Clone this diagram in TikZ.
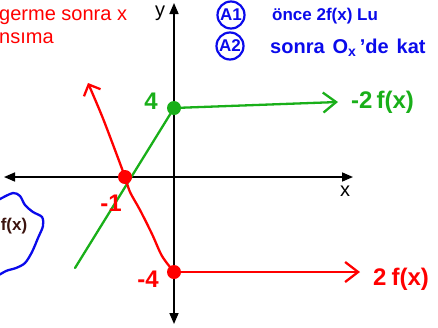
\documentclass[tikz,border=0pt]{standalone}
\usepackage{fontspec}
\setmainfont{Liberation Sans}
\usetikzlibrary{arrows.meta}
\definecolor{penred}{RGB}{255,0,0}
\definecolor{pengreen}{RGB}{25,175,25}
\definecolor{penblue}{RGB}{10,10,235}
\definecolor{penbrown}{RGB}{60,20,15}
\begin{document}
\begin{tikzpicture}[x=1pt, y=-1pt, line cap=round, line join=round,
    axis/.style={line width=1.6pt, {Triangle[length=11pt,width=9pt]}-{Triangle[length=11pt,width=9pt]}},
    pen/.style={line width=2.3pt},
    barb/.style={-{Straight Barb[length=13pt,width=20pt,line width=2.3pt]}},
    hand/.style={font=\fontsize{24}{28}\selectfont\bfseries, inner sep=0pt},
    ring/.style={circle, draw, penblue, line width=2.2pt, minimum size=27pt, font=\fontsize{17}{20}\selectfont\bfseries},
    every node/.style={font=\fontsize{20}{24}\selectfont, inner sep=0pt}]
    \useasboundingbox (0,0) rectangle (438,327);
    \clip (0,0) rectangle (438,327);
    % axes
    \coordinate (xl) at (4,177);
    \coordinate (xr) at (353,177);
    \coordinate (yt) at (174,3);
    \coordinate (yb) at (174,324);
    \draw[axis] (xl) -- (xr);
    \draw[axis] (yt) -- (yb);
    \node (xlab) at (345,191) {x};
    \node (ylab) at (160,13) {y};
    % points
    \coordinate (g4) at (174,108);
    \coordinate (rm4) at (174,272);
    \coordinate (rx) at (125,177);
    \coordinate (gend) at (75,268);
    \coordinate (gtip) at (338,102);
    \coordinate (rtip) at (360,272);
    \coordinate (rtop) at (88,83);
    % -2 f(x)
    \draw[pen, pengreen] (gend) -- (g4);
    \draw[pen, pengreen, barb] (g4) -- (gtip);
    % 2 f(x)
    \draw[pen, penred, -{Straight Barb[length=9pt,width=18pt,line width=2.3pt]}]
        plot[smooth, tension=0.5] coordinates {(rm4) (162,256) (152,234) (140,210) (130,192) (rx) (115,150) (102,116) (rtop)};
    \draw[pen, penred, barb] (rm4) -- (rtip);
    \foreach \p/\c in {g4/pengreen, rm4/penred, rx/penred} \fill[\c] (\p) circle (7pt);
    \node[hand, pengreen] (lab4) at (151,101) {4};
    \node[hand, pengreen, anchor=west] (labg) at (351,102) {-2\hspace{4pt}f(x)};
    \node[hand, penred] (labm4) at (148,279) {-4};
    \node[hand, penred] (labm1) at (111,203) {-1};
    \node[hand, penred, anchor=west] (labr) at (373,279) {2\hspace{5pt}f(x)};
    % f(x) blob
    \draw[pen, penblue] plot[smooth] coordinates {(-6,203) (0,199) (13,193) (20,196) (25,205) (33,212) (42,217) (43,226) (38,238) (32,252) (25,263) (16,268) (6,271) (-6,278)};
    \node[penbrown, font=\fontsize{17}{20}\selectfont\bfseries] (fx) at (14,226) {f(x)};
    % notes
    \node[penred, anchor=base west] (note1) at (-1,20) {germe sonra x};
    \node[penred, anchor=base west] (note2) at (-1,43) {nsıma};
    \node[ring] (a1) at (231,15) {A1};
    \node[ring] (a2) at (230,46) {A2};
    \node[penblue, anchor=base west, font=\fontsize{17}{20}\selectfont\bfseries] (t1) at (272,20) {önce 2f(x) Lu};
    \node[penblue, anchor=base west, font=\fontsize{20}{24}\selectfont\bfseries] (t2) at (270,53) {sonra\hspace{8pt}O\textsubscript{x}\,'de\hspace{8pt}kat};
\end{tikzpicture}
\end{document}
